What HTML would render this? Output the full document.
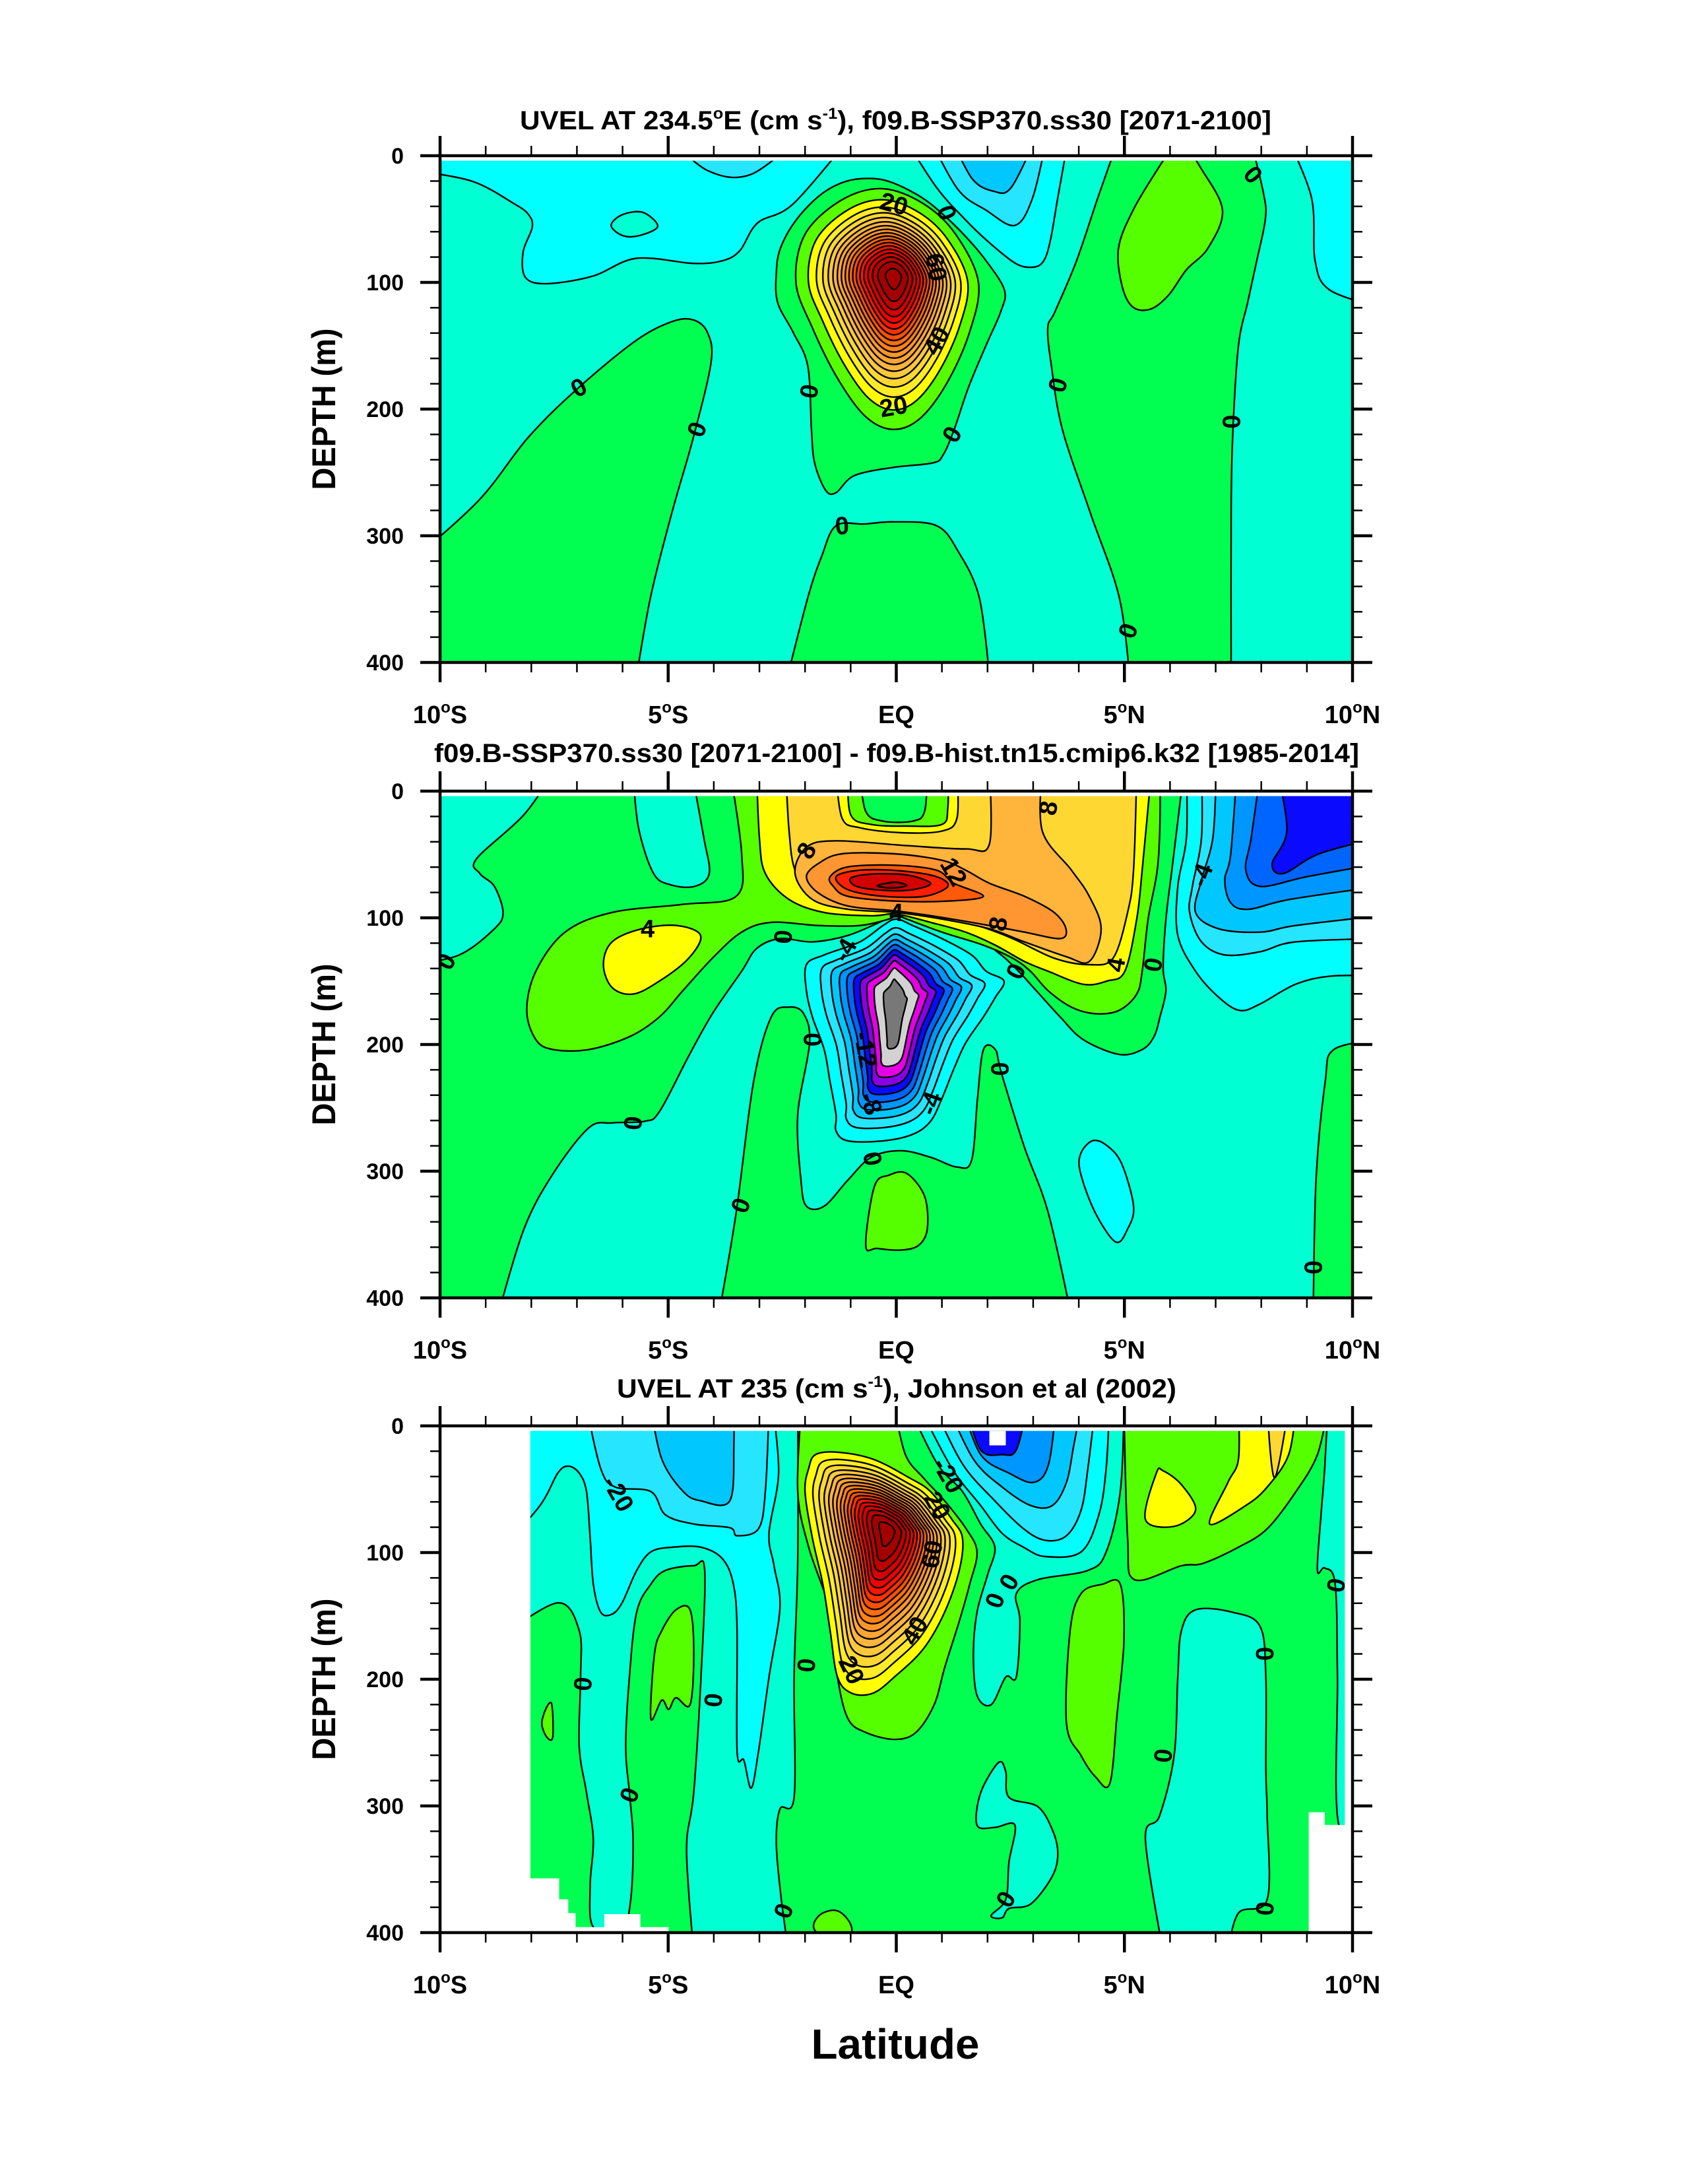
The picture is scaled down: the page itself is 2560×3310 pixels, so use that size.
<!DOCTYPE html>
<html><head><meta charset="utf-8"><style>
html,body{margin:0;padding:0;background:#fff}
svg{display:block}
text{font-family:"Liberation Sans",Arial,sans-serif;font-weight:bold;fill:#000}
</style></head><body>
<svg id="fig" xmlns="http://www.w3.org/2000/svg" width="2560" height="3310" viewBox="0 0 2560 3310"></svg>
<script>
// ---------- data arrays (lat, depth m) ----------
const panelTops=[236,1199,2161];
const yTickLabels=["0","100","200","300","400"];
const yTickValues=[0,100,200,300,400];
const xTickValues=[-10,-5,0,5,10];
const xTickNums=["10","5","","5","10"];
const xTickHems=["S","S","EQ","N","N"];
const titles=["UVEL AT 234.5°E (cm s-1), f09.B-SSP370.ss30 [2071-2100]","f09.B-SSP370.ss30 [2071-2100] - f09.B-hist.tn15.cmip6.k32 [1985-2014]","UVEL AT 235 (cm s-1), Johnson et al (2002)"];

const posP1=['#00FF50','#55FF00','#FFFF00','#FFEB28','#FFD732','#FFC83C','#FFB43C','#FFA532','#FF9628','#FF8214','#FF6E0A','#FF5000','#FF3200','#FF1400','#F00000','#D70000','#BE0000','#A50000'];
const posP2=['#00FF50','#55FF00','#FFFF00','#FFD732','#FFB43C','#FF9632','#FF5A0A','#FF1E00','#D20000','#B40000'];
const negPal=['#00FFD2','#00FFFF','#26E5FF','#00C8FF','#0096FF','#0064FF','#0A0AFF','#8A00E6','#E600E6','#D2D2D2','#787878'];

// Panel 1
const p1CyanTL=[[-10,11.6],[-9.31,20],[-8.37,38],[-8.06,46.5],[-7.98,56.5],[-8.18,76],[-8.13,96],[-7.66,101],[-6.65,95],[-5.7,81],[-4.45,85],[-3.82,83],[-3.43,75],[-3.04,53],[-2.26,38],[-1.0,5],[-10,5]];
const p1AqPatch=[[-6.25,55],[-6.0,46.5],[-5.55,44.8],[-5.23,55.8],[-5.63,63],[-6.0,63]];
const p1LbStrip=[[-5,5],[-4.14,11.6],[-3.2,15],[-2.1,5]];
const p1CyanTR=[[0.17,5],[0.88,25],[1.5,50],[1.97,66.4],[2.6,84.7],[2.99,88],[3.23,83],[3.38,66.4],[3.54,33],[3.78,5]];
const p1LbTR=[[0.72,5],[1.35,26.6],[1.97,43],[2.6,55],[2.99,33],[3.3,5]];
const p1SkyTR=[[1.19,5],[1.66,18],[2.13,28],[2.52,25],[3.07,5]];
const p1CyanR=[[8.56,5],[9.1,33],[9.18,83],[9.5,106],[10,119.6],[10,5]];
const p1GreenLL=[[-10,319],[-9.15,272],[-8.06,222],[-6.96,183],[-5.71,146],[-4.92,131],[-4.45,129.6],[-4.14,139.5],[-4.06,163],[-4.45,222.6],[-4.92,282],[-5.39,349],[-5.71,400],[-10,400]];
const p1GreenBot=[[-2.41,400],[-1.94,349],[-1.63,315.6],[-1.32,292],[-0.69,290.7],[-0.06,289],[0.88,292],[1.35,312],[1.82,349],[2.05,400]];
const p1GreenR=[[5.12,400],[4.89,349],[4.26,282.7],[3.64,216],[3.4,166],[3.32,136],[3.48,123],[3.95,83],[4.42,33],[4.89,5],[7.75,5],[8.05,30],[8.09,50],[7.9,83],[7.7,116],[7.5,150],[7.38,216],[7.34,282],[7.34,400]];
const p1LimeR=[[4.87,73],[5.19,43],[5.74,10],[6.21,5],[6.68,10],[7.15,43],[6.83,73],[6.36,90],[5.97,110],[5.58,121],[5.19,119.6],[4.95,103]];
const p1GreenJet=[[-2.63,93],[-2.6,116],[-2.26,139.5],[-1.94,166],[-1.86,216],[-1.79,242.5],[-1.55,264],[-1.32,266],[-0.92,252.5],[-0.06,246],[0.8,242.5],[1.03,236],[1.27,216],[1.58,183],[1.97,149.5],[2.29,123],[2.37,106],[1.97,83],[1.5,63],[1.03,46.5],[0.56,33],[-0.06,21.6],[-0.53,18],[-1.08,20],[-1.63,30],[-2.18,50],[-2.54,73]];
const p1JetOuter=[[-0.3,26],[0.6,38],[1.3,62],[1.8,100],[1.6,140],[1.1,180],[0.5,208],[-0.1,216],[-0.7,205],[-1.3,175],[-1.85,135],[-2.2,100],[-2.0,62],[-1.2,35]];
const p1JetCenter=[-0.05,95]; const p1JetMax=92; const p1JetBase=5; const p1JetStep=5; const p1JetBand=1;
const p1Labels=[[-0.05,38,"20",15],[1.11,45,"0",70],[0.88,88,"60",80],[0.88,146,"40",-60],[-0.06,198,"20",-10],[-6.96,183,"0",-30],[-4.37,216,"0",-70],[-1.91,186,"0",-80],[1.22,220,"0",-60],[3.54,181,"0",-75],[7.35,210,"0",-90],[-1.19,292,"0",-5],[5.08,375,"0",-70],[7.82,15,"0",50]];

// Panel 2
const p2Pos0=[[-7.52,4],[-8.16,18.6],[-9.2,53.4],[-9.13,65],[-8.81,75.2],[-8.62,95.8],[-8.81,108.7],[-9.58,129.3],[-10,137],[-10,400],[-8.74,400],[-8.16,345.6],[-7.52,301.8],[-6.74,265.8],[-6.23,261.9],[-5.52,260.6],[-5.19,252.9],[-4.55,209.1],[-4.03,175.7],[-3.39,142.2],[-3.06,124.2],[-2.55,116.4],[-1.84,119],[-1.06,113.9],[-0.29,102.3],[0,97.1],[0.23,98.4],[1.0,106.1],[1.78,116.4],[2.3,129.3],[2.68,142.2],[3.07,157.6],[3.59,178.2],[4.1,196.2],[4.88,207.8],[5.39,204],[5.65,193.7],[5.78,178.2],[5.91,157.6],[5.85,139.6],[5.91,101],[6.04,62.4],[6.17,23.7],[6.3,4]];
const p2AqStripe=[[-5.77,4],[-5.65,28.9],[-5.32,65],[-4.94,74],[-4.42,75.2],[-4.1,65],[-4.22,36.6],[-4.48,4]];
const p2GreenBot=[[-3.9,400],[-3.51,332.7],[-3.13,229.7],[-2.74,178.2],[-2.35,170.5],[-2.03,175.7],[-1.9,198.8],[-2.16,255.5],[-2.09,307],[-1.97,327.6],[-1.58,327.6],[-1.06,307],[-0.55,289],[0.1,283.8],[0.75,289],[1.33,296.7],[1.65,291.5],[1.78,242.6],[1.91,204],[2.17,204],[2.3,222],[2.81,281.2],[3.33,332.7],[3.84,400]];
const p2LimeBot=[[-0.67,358.5],[-0.48,312.1],[-0.16,303.1],[0.23,301.8],[0.62,319.8],[0.68,345.6],[0.49,358.5],[0.1,362.3],[-0.42,361]];
const p2GreenR=[[9.14,400],[9.2,307],[9.4,229.7],[9.59,204],[10,196.2],[10,400]];
const p2CyanBlob=[[4.04,286.4],[4.3,276],[4.62,279.9],[4.94,294.1],[5.2,327.6],[5.07,345.6],[4.81,355.9],[4.36,332.7],[4.04,301.8]];
const p2Lime=[[-3.64,4],[-3.39,49.5],[-3.51,83],[-4.68,89.4],[-6.23,95.8],[-7.26,111.3],[-7.9,142.2],[-8.1,173.1],[-7.9,196.2],[-7.52,204],[-6.74,204],[-5.84,193.7],[-5.19,178.2],[-4.68,157.6],[-4.03,131.9],[-3.39,111.3],[-2.74,103.6],[-1.71,106.1],[-0.8,106.1],[-0.16,101],[0,97.9],[0.23,101],[1.0,111.3],[1.91,121.6],[2.55,131.9],[2.94,142.2],[3.33,157.6],[3.84,170.5],[4.36,175.7],[4.88,173.1],[5.27,160.2],[5.39,142.2],[5.52,101],[5.72,62.4],[5.78,23.7],[5.78,4]];
const p2YellowL=[[-6.42,137],[-6.23,119],[-5.58,108.7],[-4.81,106.1],[-4.29,113.9],[-4.55,131.9],[-5.19,149.9],[-5.77,160.2],[-6.23,155]];
const p2YellowT=[[-3.06,4],[-3.0,36.6],[-2.87,65],[-2.35,85.5],[-1.58,95.8],[-0.55,98.4],[0,97.1],[0.75,103.6],[1.52,111.3],[2.17,121.6],[2.81,134.5],[3.33,142.2],[4.1,152.5],[4.62,149.9],[5.01,142.2],[5.27,101],[5.39,62.4],[5.59,4]];
const p2Gold=[[-2.42,4],[-2.35,31.5],[-2.22,62.4],[-1.84,80.4],[-1.06,88.1],[0,93.8],[1.0,99.7],[1.78,106.1],[2.55,116.4],[3.46,131.9],[4.23,137],[4.75,131.9],[5.07,95.8],[5.2,62.4],[5.27,4]];
const p2RingY=[[-1.32,4],[-1.19,21.2],[-0.8,28.9],[0.1,32.8],[1.0,31.5],[1.33,21.2],[1.33,4]];
const p2RingL=[[-1.06,4],[-1.0,18.6],[-0.55,26.3],[0.23,27.6],[1.0,26.3],[1.13,13.4],[1.13,4]];
const p2RingG=[[-0.8,4],[-0.67,16],[-0.29,23.7],[0.36,23.7],[0.62,16],[0.68,4]];
const p2Or1=[[2.04,4],[3.2,4],[3.2,31.5],[3.84,62.4],[4.23,83],[4.49,108.7],[4.23,134.5],[3.72,130.6],[2.81,119],[2.04,108.7],[1.0,101],[0,95.8],[-1.06,93.3],[-1.84,85.5],[-2.22,65],[-1.97,44.3],[-1.32,39.2],[0.23,43],[1.52,45.6],[2.04,41.8]];
const p2Or2=[[-1.71,57.2],[-1.19,49.5],[-0.03,49.5],[1.0,54.6],[1.52,62.4],[2.04,72.7],[2.81,83],[3.46,95.8],[3.72,108.7],[3.59,116.4],[2.81,111.3],[2.04,106.1],[1.0,99.7],[0,94.6],[-1.06,90.7],[-1.71,80.4],[-1.97,67.5]];
const p2RedOr=[[-1.45,67.5],[-1.06,59.8],[-0.03,58.5],[0.88,62.4],[1.26,72.7],[1.91,83],[1.13,86.8],[0,86.8],[-1.06,83],[-1.38,75.2]];
const p2Red=[[-1.32,67.5],[-0.8,62.4],[0.1,62.9],[0.88,67.5],[1.13,75.2],[0.62,83],[-0.29,83],[-1.06,77.8]];
const p2DarkRed=[[-1.0,68.8],[-0.55,65.5],[0.23,66.2],[0.75,72.7],[0.36,77.8],[-0.29,78.3],[-0.87,75.2]];
const p2Core=[[-0.42,74.7],[-0.03,71.9],[0.23,74.5],[-0.09,76.5]];
const p2R2=[[6.36,4],[6.36,36.6],[6.17,75.2],[6.17,113.9],[6.56,142.2],[7.07,162.8],[7.53,173.1],[7.98,167.9],[8.75,152.5],[9.53,146],[10,146],[10,4]];
const p2R4=[[6.69,4],[6.69,36.6],[6.49,75.2],[6.43,95.8],[6.69,119],[7.2,129.3],[7.98,126.7],[8.75,119],[10,116.4],[10,4]];
const p2R6=[[7.01,4],[6.94,36.6],[6.69,70.1],[6.56,95.8],[7.07,108.7],[7.98,111.3],[8.75,106.1],[10,98.4],[10,4]];
const p2R8=[[7.46,4],[7.33,49.5],[7.2,70.1],[7.33,88.1],[7.72,93.3],[8.62,85.5],[10,75.2],[10,4]];
const p2R10=[[7.98,4],[7.78,36.6],[7.66,62.4],[7.98,75.2],[9.01,67.5],[10,57.2],[10,4]];
const p2R12=[[8.36,4],[8.56,31.5],[8.24,57.2],[8.49,65],[9.27,49.5],[10,36.6],[10,4]];
const p2NegOuter=[[-1.97,137],[-1.58,129.3],[-0.8,119],[-0.29,106.1],[0,101],[0.36,106.1],[1.0,116.4],[1.65,129.3],[1.97,142.2],[2.36,149.9],[2.17,162.8],[1.91,178.2],[1.52,198.8],[1.26,219.4],[1.0,242.6],[0.75,260.6],[0.36,270.9],[-0.29,276.1],[-1.06,276.1],[-1.32,268.3],[-1.32,255.5],[-1.45,229.7],[-1.58,204],[-1.84,178.2],[-1.97,157.6]];
const p2NegCenter=[-0.05,170]; const p2NegMax=21; const p2NegBase=2; const p2NegStep=2; const p2NegBand=-2;
const p2Labels=[[-1.97,47,"8",-60],[3.33,13.4,"8",-80],[1.26,63.6,"12",60],[0,95.8,"4",0],[2.23,104.8,"8",-80],[-5.45,108.7,"4",0],[-2.48,115,"0",-85],[-1.13,125.4,"-4",-60],[2.62,142.2,"0",-65],[4.81,137,"4",-80],[5.63,137,"0",-80],[6.69,66.2,"-4",-70],[-9.87,134.5,"0",-60],[-1.84,196.2,"0",90],[-0.67,204,"-12",80],[2.27,219.4,"0",90],[-0.55,246.5,"-8",70],[0.75,246.5,"-4",-70],[-5.77,262,"0",-85],[-0.52,290.2,"0",80],[-3.41,327,"0",-70],[9.14,376,"0",90]];

// Panel 3
const p3Domain=[[-8.02,4],[9.83,4],[9.83,315],[9.39,315],[9.39,305],[9.04,305],[9.04,400],[-4.99,400],[-4.99,395.6],[-5.61,395.6],[-5.61,385.4],[-6.4,385.4],[-6.4,395.6],[-7.03,395.6],[-7.03,384.6],[-7.19,384.6],[-7.19,373.7],[-7.39,373.7],[-7.39,357.2],[-8.02,357.2]];
const p3AqL=[[-8.02,5],[-2.16,5],[-2.16,106.8],[-2.24,198.2],[-2.24,293.2],[-2.55,302.4],[-2.63,329.8],[-2.52,373.7],[-2.36,400],[-4.44,400],[-4.56,362.7],[-4.59,326.1],[-4.44,289.6],[-4.28,198.2],[-4.2,114.1],[-4.44,110.4],[-5.06,114.1],[-5.38,125],[-5.69,147],[-5.85,198.2],[-5.93,253],[-5.85,289.6],[-5.77,326.1],[-5.82,373.7],[-6.01,395.6],[-6.64,395.6],[-6.71,362.7],[-6.64,326.1],[-6.79,289.6],[-6.95,253],[-6.92,198.2],[-6.95,161.6],[-7.42,139.7],[-8.02,165.3]];
const p3LimeA=[[-5.38,231.1],[-5.3,179.9],[-5.14,161.6],[-4.83,145.2],[-4.52,145.2],[-4.44,179.9],[-4.52,220.1],[-4.83,214.6],[-4.99,223.8],[-5.14,216.5]];
const p3LimeB=[[-7.77,234.7],[-7.66,221.9],[-7.55,220.1],[-7.53,245.7],[-7.66,245.7]];
const p3Cyan=[[-8.02,5],[-2.71,5],[-2.58,37.3],[-2.79,84.8],[-2.68,110.4],[-2.55,143.3],[-2.79,198.2],[-3.02,256.7],[-3.18,285.9],[-3.34,264],[-3.49,256.7],[-3.49,161.6],[-3.57,125],[-3.81,104.9],[-4.28,95.8],[-4.91,95.8],[-5.38,99.5],[-5.69,114.1],[-6.01,139.7],[-6.24,148.8],[-6.48,147],[-6.64,125],[-6.71,88.5],[-6.79,51.9],[-6.95,37.3],[-7.19,31.8],[-7.42,37.3],[-7.81,62.9],[-8.02,95.8]];
const p3LbL=[[-6.79,5],[-6.48,33.6],[-6.16,48.3],[-5.38,51.9],[-5.06,70.2],[-4.44,77.5],[-3.65,80.4],[-3.49,86.7],[-3.02,81.2],[-2.87,51.9],[-2.79,5]];
const p3SkyL=[[-5.38,5],[-5.14,26.3],[-4.67,51.9],[-4.28,59.2],[-3.65,59.2],[-3.56,15.4],[-3.57,5]];
const p3LimeJet=[[-2.08,5],[-2.16,51.9],[-1.92,95.8],[-1.45,147],[-1.29,198.2],[-1.06,231.1],[-0.67,242],[-0.04,247.5],[0.43,242],[0.83,220.1],[1.06,190.9],[1.38,154.3],[1.61,125],[1.77,99.5],[1.53,81.2],[1.06,59.2],[0.59,40.9],[0.2,22.7],[-0.04,5]];
const p3JetOuter=[[-1.92,33.6],[-1.77,22.7],[-1.29,20.8],[-0.51,26.3],[0.28,40.9],[0.75,51.9],[1.22,73.9],[1.45,88.5],[1.38,114.1],[1.06,147],[0.59,176.2],[-0.04,198.2],[-0.51,211],[-0.98,211],[-1.29,198.2],[-1.45,161.6],[-1.61,125],[-1.84,88.5],[-2.0,51.9]];
const p3JetCenter=[-0.2,82]; const p3JetMax=92; const p3JetBase=10; const p3JetStep=5; const p3JetBand=2;
const p3AqR1=[[0.28,5],[0.9,30],[1.45,51.9],[1.85,77.5],[2.16,95.8],[2.0,117.7],[1.77,147],[1.69,179.9],[1.77,212.8],[2.08,220.1],[2.4,198.2],[2.63,198.2],[2.71,154.3],[2.63,132.4],[3.1,121.4],[4.2,114.1],[4.6,99.5],[4.91,51.9],[4.99,5]];
const p3AqBlob=[[1.77,315.2],[1.85,289.6],[2.24,265.8],[2.4,273.1],[2.47,293.2],[3.1,300.5],[3.42,318.8],[3.54,337.1],[3.42,355.4],[2.95,377.3],[2.47,381],[2.32,388.3],[2.08,386.5],[2.4,373.7],[2.47,344.4],[2.6,315.2],[2.16,317]];
const p3CyanR=[[0.51,5],[1.22,33.6],[1.85,62.9],[2.32,84.8],[2.79,95.8],[3.26,103.1],[4.05,99.5],[4.44,70.2],[4.6,33.6],[4.67,5]];
const p3LbR=[[0.83,5],[1.45,30],[2.16,59.2],[2.79,81.2],[3.26,90.3],[3.73,86.7],[4.05,66.5],[4.2,33.6],[4.36,5]];
const p3SkyR=[[1.14,5],[1.69,26.3],[2.32,48.3],[2.95,62.9],[3.42,62.9],[3.73,44.6],[3.89,15.4],[4.05,5]];
const p3BlueR=[[1.45,5],[1.85,22.7],[2.47,37.3],[3.02,44.6],[3.34,30],[3.5,5]];
const p3DeepR=[[1.53,5],[1.85,19],[2.32,22.7],[2.63,19],[2.87,5]];
const p3AqR2=[[5.85,400],[5.46,326.1],[5.77,307.9],[6.09,260.3],[6.17,198.2],[6.25,161.6],[6.56,145.2],[7.35,147],[7.97,158],[8.1,198.2],[8.1,271.3],[8.13,307.9],[8.13,373.7],[7.5,384.6],[7.27,400]];
const p3AqCol=[[9.46,5],[9.83,5],[9.83,315.2],[9.7,315.2],[9.67,198.2],[9.62,125],[9.39,112.2],[9.23,114.1],[9.31,70.2],[9.39,33.6]];
const p3LimeTR=[[4.99,5],[5.07,88.5],[5.22,121.4],[6.25,110.4],[6.72,108.6],[7.5,95.8],[8.13,81.2],[8.76,51.9],[9.23,22.7],[9.46,5]];
const p3YelA=[[5.46,73.9],[5.7,37.3],[5.85,35.5],[6.25,46.4],[6.56,66.5],[6.09,79.3]];
const p3YelB=[[6.87,77.5],[7.27,44.6],[7.5,26.3],[7.5,5],[8.76,5],[8.6,22.7],[8.13,48.3],[7.66,62.9]];
const p3GoldB=[[8.13,5],[8.29,41],[8.6,5]];
const p3LimeC=[[3.73,234.7],[3.81,161.6],[4.05,132.4],[4.52,125],[4.91,125],[4.99,168.9],[4.84,227.4],[4.68,282.3],[4.36,276.8],[4.05,260.3]];
const p3LimeBot=[[-1.77,399],[-1.69,386.5],[-1.29,382.8],[-0.98,395.6],[-1.06,400]];
const p3Labels=[[-6.09,53.7,"-20",60],[1.14,39.1,"-20",60],[0.9,62.9,"20",60],[0.78,101.3,"60",-80],[0.4,161.6,"40",-60],[-0.98,192.7,"20",65],[-1.97,189,"0",-85],[-6.87,203.7,"0",-85],[-4.01,216.5,"0",-85],[-5.85,291.4,"0",-70],[2.47,123.2,"0",-60],[2.16,137.8,"0",-70],[8.08,179.9,"0",-90],[9.64,125.8,"0",-80],[5.85,260.3,"0",-85],[-2.47,382.8,"0",-70],[2.4,373.7,"0",-60],[8.08,381,"0",-85]];

// ---------- rendering ----------
const NS="http://www.w3.org/2000/svg";
const svg=document.getElementById('fig');
const X0=667,X1=2050,PH=768;
function xs(lat){return X0+(lat+10)*(X1-X0)/20;}
function ys(top,d){return top+d*PH/400;}
function el(tag,attrs,parent){const e=document.createElementNS(NS,tag);for(const k in attrs)e.setAttribute(k,attrs[k]);(parent||svg).appendChild(e);return e;}
function bandColor(b,pos){return b>=0?pos[Math.min(b,pos.length-1)]:negPal[Math.min(-b-1,negPal.length-1)];}
function pushPt(p,lo,hi){let la=p[0],d=p[1],pu=false;if(d<=5.2){d=-15;pu=true;}if(d>=399.5){d=415;pu=true;}if(la<=lo+0.01){la=lo-0.6;pu=true;}if(la>=hi-0.01){la=hi+0.6;pu=true;}return [la,d,pu];}
function smoothPath(pts,top,lo,hi){
  const Q=pts.map(p=>pushPt(p,lo,hi));
  const P=Q.map(q=>[xs(q[0]),ys(top,q[1])]);
  const n=P.length;
  const T=P.map((p,i)=>{if(Q[i][2])return [0,0];const a=P[(i-1+n)%n],b=P[(i+1)%n];return [(b[0]-a[0])/6,(b[1]-a[1])/6];});
  let s="M"+P[0][0].toFixed(1)+","+P[0][1].toFixed(1);
  for(let i=0;i<n;i++){const j=(i+1)%n,p1=P[i],p2=P[j];
    const c1=[p1[0]+T[i][0],p1[1]+T[i][1]],c2=[p2[0]-T[j][0],p2[1]-T[j][1]];
    s+="C"+c1[0].toFixed(1)+","+c1[1].toFixed(1)+" "+c2[0].toFixed(1)+","+c2[1].toFixed(1)+" "+p2[0].toFixed(1)+","+p2[1].toFixed(1);}
  return s+"Z";}
function region(g,pts,band,pos,top,lo,hi,name){
  const e=el('path',{d:smoothPath(pts,top,lo,hi),fill:bandColor(band,pos),stroke:'#000','stroke-width':2.4,'stroke-linejoin':'round'},g);
  
  }
function jet(g,outer,center,maxV,base,step,band0,dir,pos,top,lo,hi,name,shape){
  let i=0;
  for(let L=base;L<maxV;L+=step,i++){
    const t=Math.log(maxV/L)/Math.log(maxV/base);
    const fx=Math.pow(t,shape[0]),fy=Math.pow(t,shape[1]);
    const pts=outer.map(p=>[center[0]+fx*(p[0]-center[0]),center[1]+fy*(p[1]-center[1])]);
    region(g,pts,band0+dir*i,pos,top,lo,hi,name+'-level-'+(dir*L));}}
function clabels(g,arr,top){
  arr.forEach(a=>{const x=xs(a[0]),y=ys(top,a[1]);
    const t=el('text',{x:x,y:y+13,'text-anchor':'middle','font-size':38,transform:'rotate('+a[3]+' '+x+' '+y+')'},g);
    t.textContent=a[2];
    
    });}

function axes(top,idx){
  const g=el('g',{});
  
  
  const bot=top+PH;
  el('rect',{x:X0,y:top,width:X1-X0,height:PH,fill:'none',stroke:'#000','stroke-width':4.5},g);
  for(let d=0;d<=400;d+=20){const y=ys(top,d),maj=d%100===0,len=maj?30:15,w=maj?4.5:2.5;
    el('line',{x1:X0-len,y1:y,x2:X0,y2:y,stroke:'#000','stroke-width':w},g);
    el('line',{x1:X1,y1:y,x2:X1+len,y2:y,stroke:'#000','stroke-width':w},g);}
  for(let la=-10;la<=10;la++){const x=xs(la),maj=la%5===0,len=maj?30:15,w=maj?4.5:2.5;
    el('line',{x1:x,y1:top-len,x2:x,y2:top,stroke:'#000','stroke-width':w},g);
    el('line',{x1:x,y1:bot,x2:x,y2:bot+len,stroke:'#000','stroke-width':w},g);}
  yTickValues.forEach((v,i)=>{const t=el('text',{x:612,y:ys(top,v)+12,'text-anchor':'end','font-size':34},g);t.textContent=yTickLabels[i];
    
    });
  xTickValues.forEach((v,i)=>{const t=el('text',{x:xs(v),y:bot+92,'text-anchor':'middle','font-size':38},g);
    if(xTickNums[i]){t.appendChild(document.createTextNode(xTickNums[i]));
      const s=el('tspan',{dy:-16,'font-size':24},t);s.textContent='o';
      const h=el('tspan',{dy:16},t);h.textContent=xTickHems[i];}
    else t.textContent=xTickHems[i];
    
    });
  const yl=el('text',{x:0,y:0,'text-anchor':'middle','font-size':50,transform:'translate(508,'+(top+PH/2)+') rotate(-90)',textLength:245,lengthAdjust:'spacingAndGlyphs'},g);
  yl.textContent='DEPTH (m)';
  
  }

function title(txt,x,y,len,idx){
  const t=el('text',{x:x,y:y,'font-size':40,textLength:len,lengthAdjust:'spacingAndGlyphs'});
  
  
  const parts=txt.split(/(°|-1\))/);
  let pend=0;
  parts.forEach(p=>{
    if(p==='°'){const s=el('tspan',{dy:-16,'font-size':24},t);s.textContent='o';pend=16;}
    else if(p==='-1)'){const s=el('tspan',{dy:-16,'font-size':24},t);s.textContent='-1';const r=el('tspan',{dy:16},t);r.textContent=')';pend=0;}
    else if(p){const s=el('tspan',pend?{dy:pend}:{},t);s.textContent=p;pend=0;}});}

// clip paths
const defs=el('defs',{});
[0,1].forEach(i=>{const c=el('clipPath',{id:'clip'+i},defs);el('rect',{x:X0,y:ys(panelTops[i],4),width:X1-X0,height:PH-4*PH/400},c);});
{const c=el('clipPath',{id:'clip2'},defs);
 el('path',{d:'M'+p3Domain.map(p=>xs(p[0]).toFixed(1)+','+ys(panelTops[2],p[1]).toFixed(1)).join('L')+'Z'},c);}

// Panel 1
{const top=panelTops[0];const g=el('g',{'clip-path':'url(#clip0)'});
 
 
 el('rect',{x:X0,y:top,width:X1-X0,height:PH,fill:negPal[0]},g);
 const L=[[p1CyanTL,-2,'cyan-top-left'],[p1AqPatch,-1,'aqua-patch'],[p1LbStrip,-3,'lightblue-strip'],[p1CyanTR,-2,'cyan-top-right'],[p1LbTR,-3,'lightblue-top-right'],[p1SkyTR,-4,'sky-top-right'],[p1CyanR,-2,'cyan-right-edge'],[p1GreenLL,0,'green-lower-left'],[p1GreenBot,0,'green-bottom'],[p1GreenR,0,'green-right'],[p1LimeR,1,'lime-right'],[p1GreenJet,0,'green-around-jet']];
 L.forEach(l=>region(g,l[0],l[1],posP1,top,-10,10,l[2]));
 jet(g,p1JetOuter,p1JetCenter,p1JetMax,p1JetBase,p1JetStep,p1JetBand,1,posP1,top,-10,10,'equatorial-jet',[0.5,0.5]);
 clabels(g,p1Labels,top);}
// Panel 2
{const top=panelTops[1];const g=el('g',{'clip-path':'url(#clip1)'});
 
 
 el('rect',{x:X0,y:top,width:X1-X0,height:PH,fill:negPal[0]},g);
 const L=[[p2Pos0,0,'positive-region'],[p2AqStripe,-1,'aqua-stripe'],[p2GreenBot,0,'green-bottom'],[p2LimeBot,1,'lime-bottom'],[p2GreenR,0,'green-right'],[p2CyanBlob,-2,'cyan-blob'],[p2Lime,1,'lime-region'],[p2YellowL,2,'yellow-left'],[p2YellowT,2,'yellow-top'],[p2Gold,3,'gold-region'],[p2RingY,2,'yellow-ring'],[p2RingL,1,'lime-ring'],[p2RingG,0,'green-ring'],[p2Or1,4,'orange-region'],[p2Or2,5,'orange-core'],[p2RedOr,6,'redorange-core'],[p2Red,7,'red-core'],[p2DarkRed,8,'darkred-core'],[p2Core,9,'max-core'],[p2R2,-2,'neg-right-2'],[p2R4,-3,'neg-right-4'],[p2R6,-4,'neg-right-6'],[p2R8,-5,'neg-right-8'],[p2R10,-6,'neg-right-10'],[p2R12,-7,'neg-right-12']];
 L.forEach(l=>region(g,l[0],l[1],posP2,top,-10,10,l[2]));
 jet(g,p2NegOuter,p2NegCenter,p2NegMax,p2NegBase,p2NegStep,p2NegBand,-1,posP2,top,-10,10,'undercurrent-anomaly',[0.55,0.3]);
 clabels(g,p2Labels,top);}
// Panel 3
{const top=panelTops[2];const g=el('g',{'clip-path':'url(#clip2)'});
 
 
 el('rect',{x:X0,y:top,width:X1-X0,height:PH,fill:posP1[0]},g);
 const L=[[p3AqL,-1,'aqua-left'],[p3LimeA,1,'lime-blob-a'],[p3LimeB,1,'lime-blob-b'],[p3Cyan,-2,'cyan-left'],[p3LbL,-3,'lightblue-left'],[p3SkyL,-4,'sky-left'],[p3AqR1,-1,'aqua-right-top'],[p3AqBlob,-1,'aqua-blob'],[p3CyanR,-2,'cyan-right'],[p3LbR,-3,'lightblue-right'],[p3SkyR,-4,'sky-right'],[p3BlueR,-5,'blue-right'],[p3DeepR,-7,'deepblue-right'],[p3AqR2,-1,'aqua-right-low'],[p3AqCol,-1,'aqua-column'],[p3LimeTR,1,'lime-top-right'],[p3YelA,2,'yellow-a'],[p3YelB,2,'yellow-b'],[p3GoldB,4,'gold-b'],[p3LimeC,1,'lime-center-right'],[p3LimeBot,1,'lime-bottom'],[p3LimeJet,1,'lime-jet']];
 L.forEach(l=>region(g,l[0],l[1],posP1,top,-8.02,9.83,l[2]));
 jet(g,p3JetOuter,p3JetCenter,p3JetMax,p3JetBase,p3JetStep,p3JetBand,1,posP1,top,-8.02,9.83,'observed-jet',[0.5,0.5]);
 const w=el('rect',{x:xs(2.04),y:ys(top,0),width:xs(2.40)-xs(2.04),height:ys(top,15.4)-ys(top,0),fill:'#fff'},g);
 
 
 clabels(g,p3Labels,top);}

panelTops.forEach((t,i)=>axes(t,i));
title(titles[0],788,196,1139,1);
title(titles[1],658,1155,1402,2);
title(titles[2],935,2118,848,3);
const xl=el('text',{x:1357,y:3120,'text-anchor':'middle','font-size':64,textLength:255,lengthAdjust:'spacingAndGlyphs'});
xl.textContent='Latitude';


</script>
</body></html>
